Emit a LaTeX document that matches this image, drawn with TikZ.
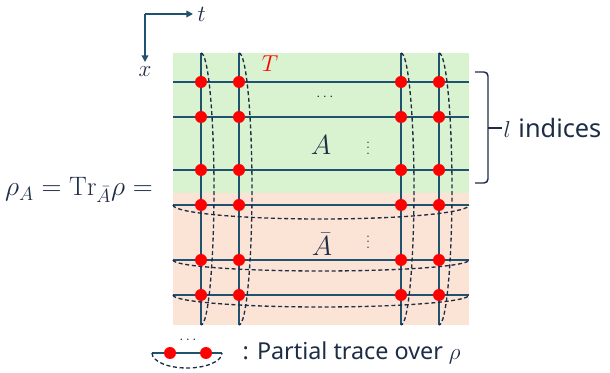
\documentclass[tikz,border=0pt]{standalone}
\usepackage{fontspec}
\setsansfont{Noto Sans}
\usetikzlibrary{arrows.meta}
\definecolor{bgA}{RGB}{217,242,208}
\definecolor{bgB}{RGB}{251,227,214}
\definecolor{gridcol}{RGB}{31,82,110}
\definecolor{inkcol}{RGB}{30,45,70}
\tikzset{
  gridline/.style  = {gridcol, line width=1.9pt},
  traceline/.style = {inkcol, line width=1pt, dash pattern=on 3pt off 2pt},
  site/.style      = {circle, fill=red, inner sep=0pt, minimum size=9pt},
  lbl/.style       = {inkcol, font=\fontsize{20}{24}\selectfont},
  axis/.style      = {gridcol, line width=1.1pt, -{Triangle[length=5pt, width=5pt]}}
}

\begin{document}
\begin{tikzpicture}[x=0.75pt, y=-0.75pt]
  \useasboundingbox (0,0) rectangle (610,373);

  % regions A and its complement
  \fill[bgA] (173,53) rectangle (469,193);
  \fill[bgB] (173,193) rectangle (469,325);

  % axes
  \coordinate (ax) at (145,14);
  \coordinate (axt) at (193,14);
  \coordinate (axx) at (145,62);
  \draw[axis] (ax) -- (axt);
  \draw[axis] (ax) -- (axx);
  \node[lbl, font=\fontsize{16}{18}\selectfont, right=0pt] (tl) at (axt) {$t$};
  \node[lbl, font=\fontsize{16}{18}\selectfont, below=0pt] (xl) at (axx) {$x$};

  % grid end points
  \foreach \c/\xc in {1/201,2/239,3/401,4/439}{
    \coordinate (v\c-top) at (\xc,53);
    \coordinate (v\c-bot) at (\xc,325);
  }
  \foreach \r/\yr in {1/82,2/117,3/170,4/205,5/260,6/295}{
    \coordinate (h\r-l) at (173,\yr);
    \coordinate (h\r-r) at (469,\yr);
  }

  % tensor network lines
  \foreach \c in {1,...,4}{
    \draw[gridline] (v\c-top) -- (v\c-bot);
  }
  \foreach \r in {1,...,6}{
    \draw[gridline] (h\r-l) -- (h\r-r);
  }

  % traced bonds
  \foreach \c in {1,...,4}{
    \draw[traceline] (v\c-top) arc[start angle=-90, end angle=90, x radius=13, y radius=136];
  }
  \draw[traceline] (h4-l) arc[start angle=180, end angle=0, x radius=148, y radius=14];
  \draw[traceline] (h5-l) arc[start angle=180, end angle=0, x radius=148, y radius=11];
  \draw[traceline] (h6-l) arc[start angle=180, end angle=0, x radius=148, y radius=12];

  % sites
  \foreach \c in {1,...,4}{
    \foreach \r in {1,...,6}{
      \node[site] (s\c\r) at (v\c-top |- h\r-l) {};
    }
  }

  % labels
  \node[lbl, text=red, font=\fontsize{19}{22}\selectfont] (T) at (270,64) {$T$};
  \node[lbl, font=\fontsize{11}{13}\selectfont] (hdots) at (325,97) {$\cdots$};
  \node[lbl, font=\fontsize{21}{24}\selectfont] (A) at (321,145) {$A$};
  \node[lbl, font=\fontsize{11}{13}\selectfont] (vd1) at (368,144) {$\vdots$};
  \node[lbl, font=\fontsize{21}{24}\selectfont] (Ab) at (322,244) {$\bar{A}$};
  \node[lbl, font=\fontsize{11}{13}\selectfont] (vd2) at (368,238) {$\vdots$};

  % rho_A
  \node[lbl] (eq) at (79,190) {$\rho_A = \mathrm{Tr}_{\bar{A}}\rho =$};

  % brace over the A rows
  \coordinate (br) at (488,128);
  \draw[inkcol, line width=1.1pt, rounded corners=3pt] (475,72) -| (br) |- (475,183);
  \coordinate (brt) at (502,128);
  \draw[inkcol, line width=1.1pt] (br) -- (brt);
  \node[lbl, anchor=west, inner sep=1pt, font=\fontsize{19}{22}\selectfont] (ind) at (brt) {$l$ \sffamily indices};

  % legend
  \coordinate (k-l) at (152,353);
  \coordinate (k-r) at (222,353);
  \draw[gridline, line width=1.5pt] (k-l) -- (k-r);
  \draw[traceline] (k-l) arc[start angle=180, end angle=0, x radius=35, y radius=15];
  \node[site] (k1) at (170,353) {};
  \node[site] (k2) at (206,353) {};
  \node[lbl, font=\fontsize{11}{13}\selectfont] (kdots) at (188,340) {$\cdots$};
  \node[lbl, anchor=west, font=\fontsize{17.5}{20}\selectfont\sffamily] (ktext) at (238,353) {: Partial trace over $\rho$};
\end{tikzpicture}
\end{document}
